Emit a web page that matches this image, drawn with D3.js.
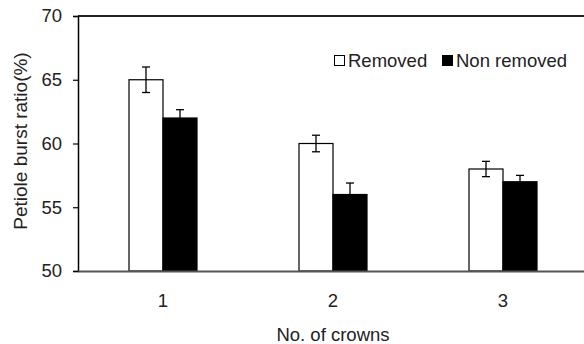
<!DOCTYPE html>
<html><head><meta charset="utf-8">
<script src="https://cdn.jsdelivr.net/npm/d3@7"></script>
<style>body{margin:0;background:#fff}svg{display:block}text{font-family:"Liberation Sans",Arial,sans-serif;fill:#222}</style>
</head><body><svg id="c" width="584" height="344"></svg>
<script>
const categories = ["1", "2", "3"];
const seriesNames = ["Removed", "Non removed"];
const removed = [65, 60, 58];
const removedErr = [1.0, 0.65, 0.6];
const nonRemoved = [62, 56, 57];
const nonRemovedErr = [0.65, 0.9, 0.5];
const yTicks = [50, 55, 60, 65, 70];

const FONT = '"Liberation Sans",Arial,sans-serif';
const FS = 18.5;
const svg = d3.select("#c");
const mLeft = 78, mRight = 588, mTop = 16, mBottom = 271;
const x = d3.scaleBand().domain(categories).range([mLeft, mRight]).paddingInner(0).paddingOuter(0);
const y = d3.scaleLinear().domain([50, 70]).range([mBottom, mTop]);
const barW = 34;

// top border
svg.append("line").attr("x1", mLeft).attr("x2", 584).attr("y1", y(70)).attr("y2", y(70))
  .attr("stroke", "#222").attr("stroke-width", 2);

// y axis
const ya = svg.append("g").attr("transform", `translate(${mLeft},0)`)
  .call(d3.axisLeft(y).tickValues(yTicks).tickSize(5).tickPadding(11));
ya.select(".domain").attr("stroke", "#000").attr("stroke-width", 1.5);
ya.selectAll(".tick line").attr("stroke", "#000").attr("stroke-width", 1.2);
ya.selectAll(".tick text").attr("font-size", FS).style("font-family", FONT).attr("fill", "#222");

const series = [
  {vals: removed, err: removedErr, fill: "#fff", off: -barW},
  {vals: nonRemoved, err: nonRemovedErr, fill: "#000", off: 0}
];
series.forEach(s => {
  categories.forEach((c, i) => {
    const cx = x(c) + x.bandwidth() / 2;
    svg.append("rect").attr("x", cx + s.off).attr("y", y(s.vals[i]))
      .attr("width", barW).attr("height", y(50) - y(s.vals[i]))
      .attr("fill", s.fill).attr("stroke", "#000").attr("stroke-width", 1.2);
    const ex = cx + s.off + barW / 2;
    const hi = y(s.vals[i] + s.err[i]), lo = y(s.vals[i] - s.err[i]);
    const g = svg.append("g").attr("stroke", "#000").attr("stroke-width", 1.3);
    g.append("line").attr("x1", ex).attr("x2", ex).attr("y1", hi).attr("y2", lo);
    g.append("line").attr("x1", ex - 4).attr("x2", ex + 4).attr("y1", hi).attr("y2", hi);
    g.append("line").attr("x1", ex - 4).attr("x2", ex + 4).attr("y1", lo).attr("y2", lo);
  });
});

// x axis
const xa = svg.append("g").attr("transform", `translate(0,${mBottom})`)
  .call(d3.axisBottom(x).tickSize(0).tickPadding(0));
xa.select(".domain").attr("stroke", "#555").attr("stroke-width", 2);
xa.selectAll(".tick text").attr("font-size", FS).style("font-family", FONT).attr("fill", "#222")
  .attr("dy", null).attr("y", 36);

// axis titles
svg.append("text").attr("x", 333).attr("y", 341).attr("text-anchor", "middle").attr("font-size", FS).text("No. of crowns");
svg.append("text").attr("transform", "translate(27,141) rotate(-90)").attr("text-anchor", "middle").attr("font-size", 19).text("Petiole burst ratio(%)");

// legend
const leg = [{name: seriesNames[0], fill: "#fff", x: 334, tx: 348}, {name: seriesNames[1], fill: "#000", x: 442, tx: 456}];
leg.forEach(l => {
  svg.append("rect").attr("x", l.x + 0.5).attr("y", 55.5).attr("width", 10).attr("height", 10)
    .attr("fill", l.fill).attr("stroke", "#000").attr("stroke-width", 1);
  svg.append("text").attr("x", l.tx).attr("y", 67).attr("font-size", FS).text(l.name);
});
</script></body></html>
